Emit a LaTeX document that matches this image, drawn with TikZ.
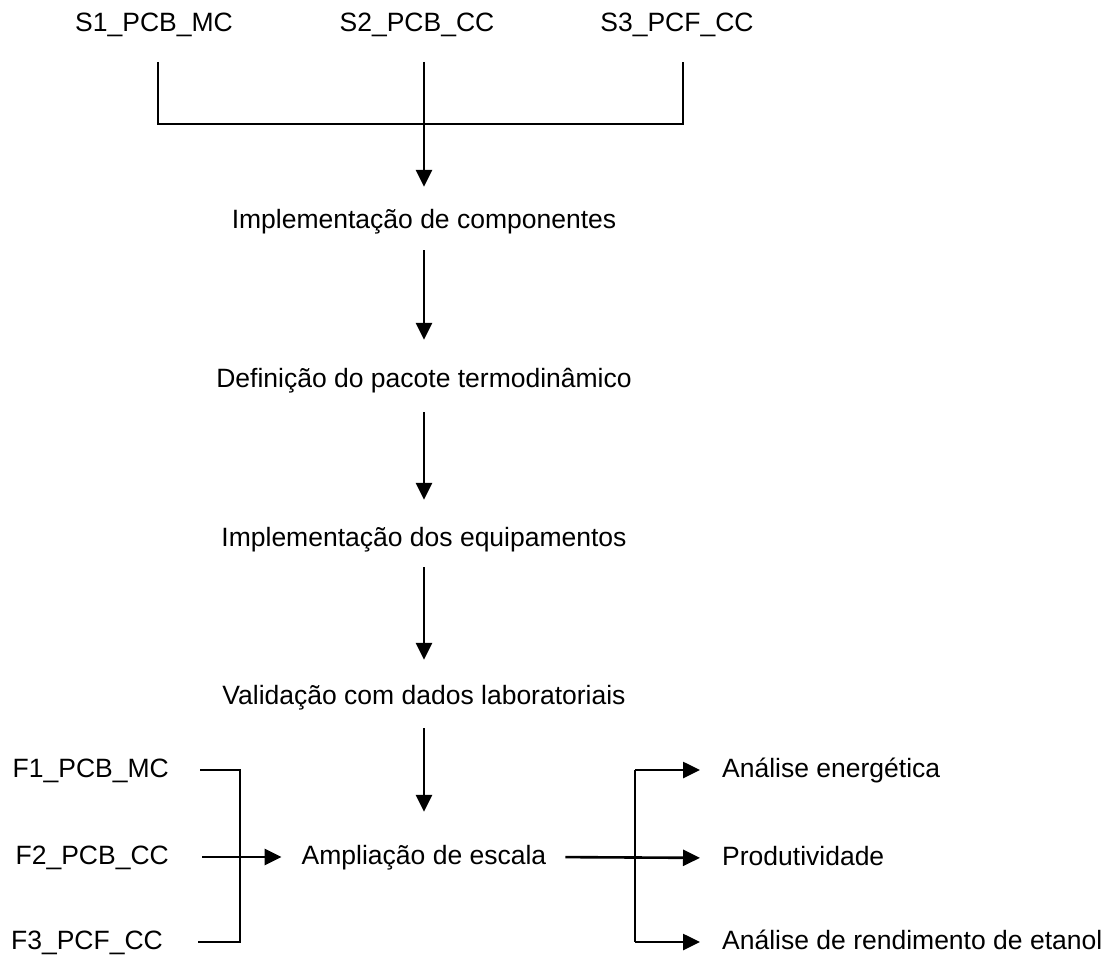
\documentclass[tikz,border=0pt]{standalone}
\usepackage{fontspec}
\setmainfont{Liberation Sans}
\usetikzlibrary{arrows.meta,positioning}

\tikzset{
  etapa/.style={inner sep=0pt, text height=19pt, text depth=5pt,
    font=\fontsize{26.5}{32}\selectfont},
  linha/.style={line width=2.6pt},
  seta/.style={linha, -{Triangle[length=17pt,width=16pt]}},
}

\begin{document}
\begin{tikzpicture}[x=1pt,y=-1pt]
                    \useasboundingbox (0,0) rectangle (1108,965);
                    % Simulacoes de partida
                    \node[etapa] (s1) at (154,25) {S1\_PCB\_MC};
                    \node[etapa] (s2) at (417,25) {S2\_PCB\_CC};
                    \node[etapa] (s3) at (677,25) {S3\_PCF\_CC};
                    \coordinate (t1) at (158,62);
                    \coordinate (t2) at (424,62);
                    \coordinate (t3) at (683,62);
                    \coordinate (j2) at (424,124);
                    \draw [linha] (t1) |- (t3 |- j2) -- (t3);
                    \draw [linha] (t2) -- (j2);
                    % Etapas da simulacao
                    \node[etapa] (impcomp) at (424,222) {Implementação de componentes};
                    \node[etapa] (pacote) at (424,380) {Definição do pacote termodinâmico};
                    \node[etapa] (impequip) at (424,539) {Implementação dos equipamentos};
                    \node[etapa] (valid) at (424,697) {Validação com dados laboratoriais};
                    \node[etapa] (ampl) at (424,857) {Ampliação de escala};
                    \draw [seta, shorten >=23pt] (j2) -- (impcomp.north);
                    \draw [seta, shorten <=16pt, shorten >=28pt] (impcomp.south) -- (pacote.north);
                    \draw [seta, shorten <=20pt, shorten >=27pt] (pacote.south) -- (impequip.north);
                    \draw [seta, shorten <=16pt, shorten >=25pt] (impequip.south) -- (valid.north);
                    \draw [seta, shorten <=19pt, shorten >=33pt] (valid.south) -- (ampl.north);
                    % Fluxogramas de entrada
                    \node[etapa, anchor=east] (f1) at (169,770) {F1\_PCB\_MC};
                    \node[etapa, anchor=east] (f2) at (169,857) {F2\_PCB\_CC};
                    \node[etapa, anchor=east] (f3) at (163,942) {F3\_PCF\_CC};
                    \coordinate (fb) at (240,857);
                    \draw [linha] ([xshift=31pt]f1.east) -| (fb) |- ([xshift=35pt]f3.east);
                    \draw [seta, shorten >=20pt] ([xshift=33pt]f2.east) -- (ampl.west);
                    % Analises
                    \node[etapa, anchor=west] (energ) at (722,770) {Análise energética};
                    \node[etapa, anchor=west] (prod) at (722,858) {Produtividade};
                    \node[etapa, anchor=west] (rend) at (722,942) {Análise de rendimento de etanol};
                    \coordinate (rb) at (635,857);
                    \draw [seta, shorten <=19pt, shorten >=22pt] (ampl.east) -- (prod.west);
                    \draw [linha] (rb |- energ.west) -- (rb |- rend.west);
                    \draw [seta, shorten >=22pt] (rb |- energ.west) -- (energ.west);
                    \draw [seta, shorten >=22pt] (rb |- rend.west) -- (rend.west);
                \end{tikzpicture}
\end{document}
